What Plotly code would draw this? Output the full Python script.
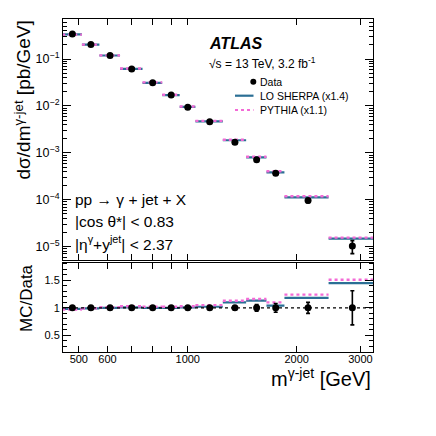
# external
import plotly.graph_objects
import plotly.subplots


########
# Data #
########

# m(gamma-jet) bins [GeV]
mass_low = [450, 510, 570, 650, 750, 850, 950, 1050, 1250, 1450, 1650, 1850, 2450]
mass_high = [510, 570, 650, 750, 850, 950, 1050, 1250, 1450, 1650, 1850, 2450, 3250]
mass_center = [480, 540, 610, 700, 800, 900, 1000, 1150, 1350, 1550, 1750, 2150, 2850]

# dsigma/dm [pb/GeV]
data_xsec = [0.342, 0.205, 0.119, 0.0612, 0.0312, 0.0171, 0.00944, 0.00459, 0.00169, 7.1e-4, 3.69e-4, 9.6e-5, 1.03e-5]
data_rel_err = [0.01, 0.01, 0.01, 0.01, 0.01, 0.01, 0.015, 0.02, 0.03, 0.06, 0.08, 0.10, 0.31]
sherpa_xsec = [0.335, 0.203, 0.119, 0.0618, 0.0312, 0.0171, 0.00953, 0.00468, 0.00186, 8.02e-4, 3.84e-4, 1.13e-4, 1.49e-5]
pythia_xsec = [0.332, 0.203, 0.120, 0.0630, 0.0318, 0.0174, 0.00972, 0.00482, 0.00191, 8.24e-4, 4.06e-4, 1.19e-4, 1.56e-5]

# MC/Data
sherpa_ratio = [0.98, 0.99, 1.00, 1.01, 1.00, 1.00, 1.01, 1.02, 1.10, 1.13, 1.04, 1.18, 1.45]
pythia_ratio = [0.97, 0.99, 1.01, 1.03, 1.02, 1.02, 1.03, 1.05, 1.13, 1.16, 1.10, 1.24, 1.51]

# ticks
x_tick_values = [500, 600, 700, 800, 900, 1000, 2000, 3000]
x_tick_labels = ["500", "600", "", "", "", "1000", "2000", "3000"]
y_tick_values = [1e-5, 1e-4, 1e-3, 1e-2, 1e-1]
y_tick_labels = ["10<sup>−5</sup>", "10<sup>−4</sup>", "10<sup>−3</sup>", "10<sup>−2</sup>", "10<sup>−1</sup>"]
y_minor_values = [m * 10.0 ** e for e in range(-6, 0) for m in range(2, 10)]
ratio_tick_values = [0.5, 1, 1.5]
ratio_tick_labels = ["0.5", "1", "1.5"]
ratio_minor_values = [round(0.2 + 0.1 * i, 1) for i in range(17)]


##########
# Layout #
##########

sherpa_color = "#2b6f95"
pythia_color = "#f36ad6"
font_family = "Liberation Sans, Arial, sans-serif"

# the page body adds 8 px; frame given in screen pixels
page_offset = 8
frame_left, frame_right, frame_top, frame_bottom = 63, 373, 19, 352


def paper_x(px):
    return (px - frame_left) / (frame_right - frame_left)


def paper_y(py):
    return (frame_bottom - py) / (frame_bottom - frame_top)


def bin_segments(values):
    xs, ys = [], []
    for low, high, value in zip(mass_low, mass_high, values):
        xs += [low, high, None]
        ys += [value, value, None]
    return xs, ys


figure = plotly.subplots.make_subplots(rows=2, cols=1, shared_xaxes=True)

# top panel
for values, color, dash, width in [(sherpa_xsec, sherpa_color, "solid", 2.2), (pythia_xsec, pythia_color, "dot", 2.4)]:
    xs, ys = bin_segments(values)
    figure.add_trace(plotly.graph_objects.Scatter(
        x=xs, y=ys, mode="lines", showlegend=False,
        line=dict(color=color, dash=dash, width=width)), row=1, col=1)

figure.add_trace(plotly.graph_objects.Scatter(
    x=mass_center,
    y=data_xsec,
    mode="markers",
    showlegend=False,
    marker=dict(color="black", size=7),
    error_y=dict(type="data", array=[v * e for v, e in zip(data_xsec, data_rel_err)], color="black", thickness=1.6, width=2)),
    row=1, col=1)

# ratio panel
for values, color, dash, width in [(sherpa_ratio, sherpa_color, "solid", 2.2), (pythia_ratio, pythia_color, "dot", 2.4)]:
    xs, ys = bin_segments(values)
    figure.add_trace(plotly.graph_objects.Scatter(
        x=xs, y=ys, mode="lines", showlegend=False,
        line=dict(color=color, dash=dash, width=width)), row=2, col=1)

figure.add_shape(type="line", xref="x2 domain", yref="y2", x0=0, x1=1, y0=1, y1=1,
                 line=dict(color="black", dash="dot", width=1.3))

figure.add_trace(plotly.graph_objects.Scatter(
    x=mass_center,
    y=[1] * len(mass_center),
    mode="markers",
    showlegend=False,
    marker=dict(color="black", size=7),
    error_y=dict(type="data", array=data_rel_err, color="black", thickness=1.6, width=2)),
    row=2, col=1)

axis_style = dict(showline=True, mirror="allticks", linecolor="black", linewidth=1,
                  ticks="inside", tickcolor="black", showgrid=False, zeroline=False)

figure.update_xaxes(type="log", range=[2.6553, 3.5119], tickvals=x_tick_values, ticktext=x_tick_labels,
                    ticklen=6, tickfont=dict(size=11, color="black"), **axis_style)
figure.update_xaxes(showticklabels=False, row=1, col=1)
figure.update_xaxes(ticklabelstandoff=-3, row=2, col=1)
figure.update_yaxes(type="log", range=[-5.273, -0.146], tickvals=y_tick_values, ticktext=y_tick_labels,
                    ticklen=8, tickfont=dict(size=12.5, color="black"),
                    minor=dict(tickmode="array", tickvals=y_minor_values, ticks="inside", ticklen=4, tickcolor="black"),
                    row=1, col=1, **axis_style)
figure.update_yaxes(range=[0.197, 1.825], tickvals=ratio_tick_values, ticktext=ratio_tick_labels,
                    ticklen=8, tickfont=dict(size=11, color="black"),
                    minor=dict(tickmode="array", tickvals=ratio_minor_values, ticks="inside", ticklen=4, tickcolor="black"),
                    row=2, col=1, **axis_style)

figure.update_layout(
    width=436,
    height=436,
    margin=dict(l=frame_left - page_offset, r=436 - frame_right + page_offset,
                t=frame_top - page_offset, b=436 - frame_bottom + page_offset),
    paper_bgcolor="white",
    plot_bgcolor="white",
    font=dict(family=font_family, color="black"),
    yaxis=dict(domain=[paper_y(259.5), 1]),
    yaxis2=dict(domain=[0, paper_y(262.5)]))

# axis titles
annotations = [
    dict(text="dσ/dm<sup>γ-jet</sup> [pb/GeV]", x=paper_x(22), y=1, xanchor="center", yanchor="top",
         textangle=-90, font=dict(size=19)),
    dict(text="MC/Data", x=paper_x(26), y=paper_y(298), xanchor="center", yanchor="middle",
         textangle=-90, font=dict(size=17)),
    dict(text="m<sup>γ-jet</sup> [GeV]", x=paper_x(373), y=paper_y(377), xanchor="right", yanchor="middle",
         font=dict(size=20)),
    # labels
    dict(text="<b><i>ATLAS</i></b>", x=paper_x(207), y=paper_y(43.5), xanchor="left", yanchor="middle",
         font=dict(size=16)),
    dict(text="√s = 13 TeV, 3.2 fb<sup>-1</sup>", x=paper_x(207), y=paper_y(63), xanchor="left", yanchor="middle",
         font=dict(size=12)),
    dict(text="Data", x=paper_x(258), y=paper_y(81.7), xanchor="left", yanchor="middle", font=dict(size=10.5)),
    dict(text="LO SHERPA (x1.4)", x=paper_x(258), y=paper_y(95.7), xanchor="left", yanchor="middle", font=dict(size=10.5)),
    dict(text="PYTHIA (x1.1)", x=paper_x(258), y=paper_y(110), xanchor="left", yanchor="middle", font=dict(size=10.5)),
    dict(text="pp → γ + jet + X", x=paper_x(73), y=paper_y(199.3), xanchor="left", yanchor="middle", font=dict(size=15.5)),
    dict(text="|cos θ*| < 0.83", x=paper_x(73), y=paper_y(221.3), xanchor="left", yanchor="middle", font=dict(size=15.5)),
    dict(text="|η<sup>γ</sup>+y<sup>jet</sup>| < 2.37", x=paper_x(73), y=paper_y(243.3), xanchor="left", yanchor="middle",
         font=dict(size=15.5)),
]
for annotation in annotations:
    figure.add_annotation(xref="paper", yref="paper", showarrow=False, **annotation)

# legend symbols
figure.add_shape(type="circle", xref="paper", yref="paper",
                 x0=paper_x(250.3), x1=paper_x(256.3), y0=paper_y(84.7), y1=paper_y(78.7),
                 fillcolor="black", line=dict(color="black", width=0))
figure.add_shape(type="line", xref="paper", yref="paper",
                 x0=paper_x(235), x1=paper_x(253.5), y0=paper_y(95.7), y1=paper_y(95.7),
                 line=dict(color=sherpa_color, width=2.2))
figure.add_shape(type="line", xref="paper", yref="paper",
                 x0=paper_x(235), x1=paper_x(253.5), y0=paper_y(110), y1=paper_y(110),
                 line=dict(color=pythia_color, width=2.2, dash="dot"))

figure.write_html("out.html")
